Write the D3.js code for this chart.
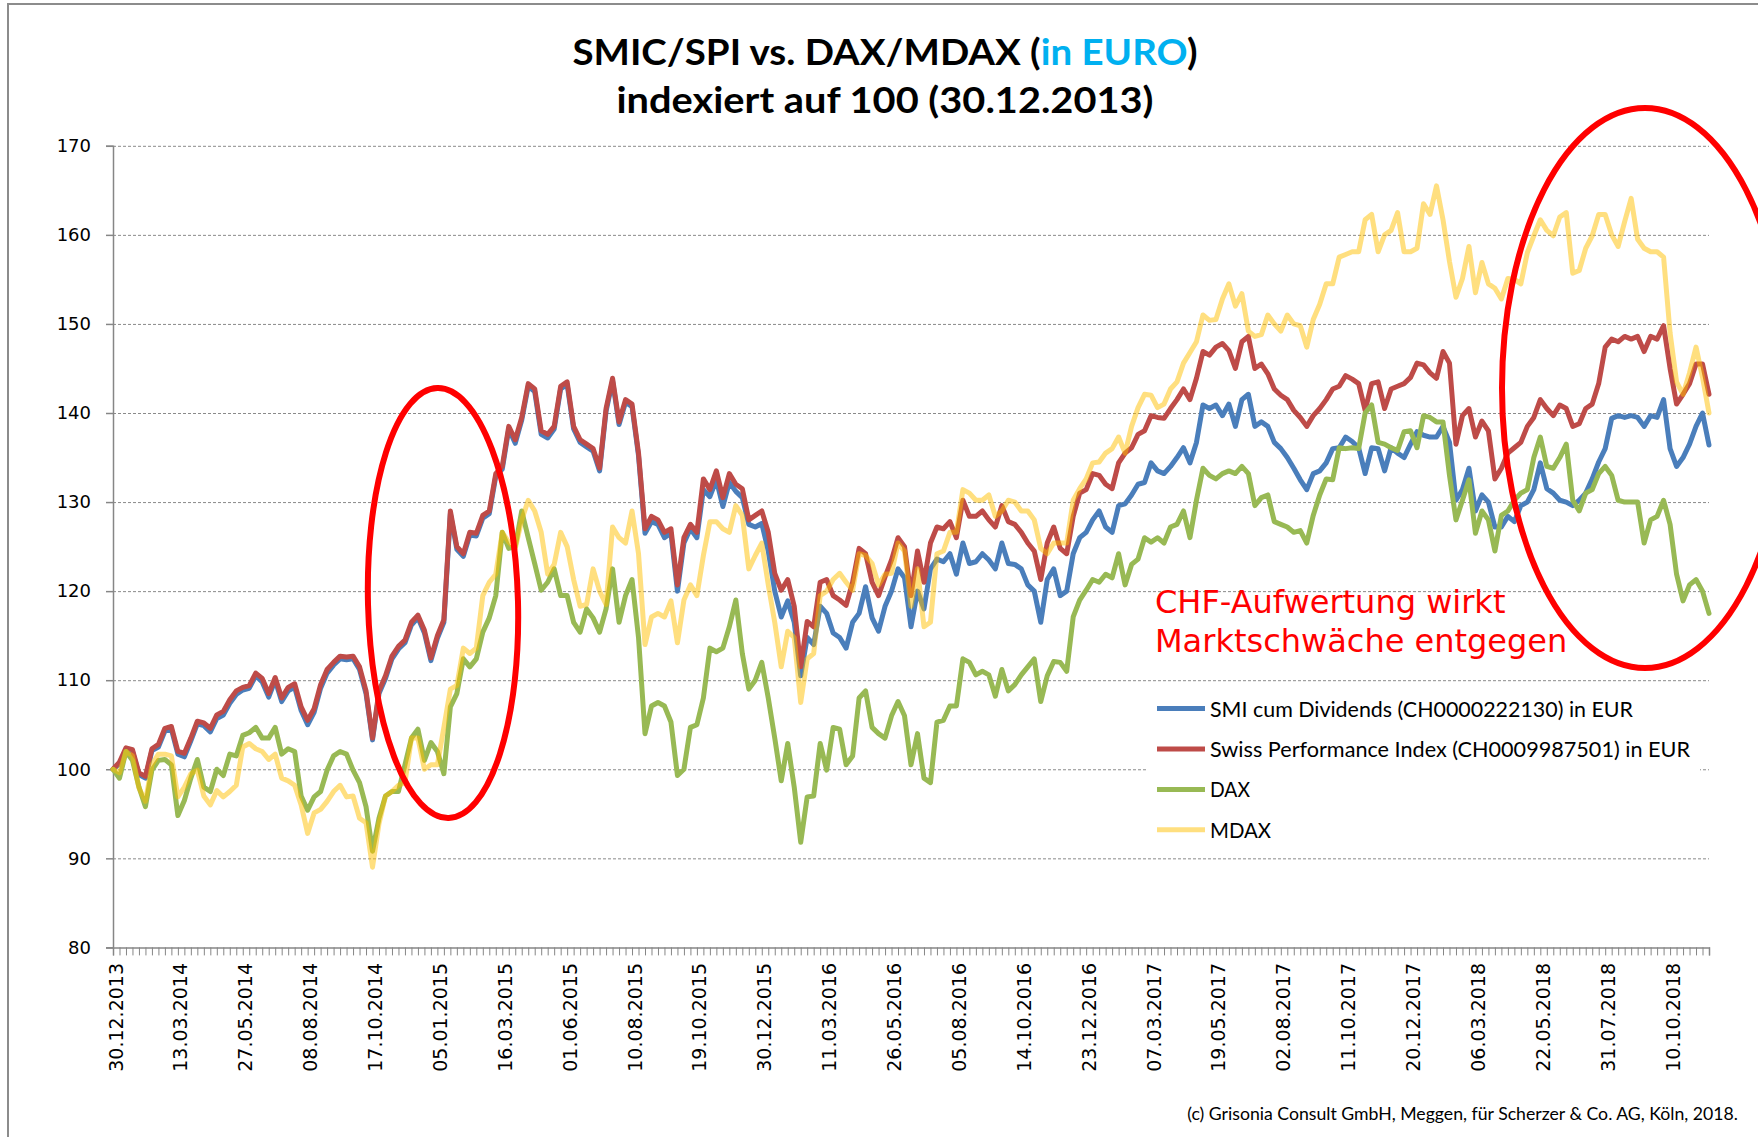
<!DOCTYPE html>
<html>
<head>
<meta charset="utf-8">
<title>SMIC/SPI vs. DAX/MDAX</title>
<script src="https://cdn.jsdelivr.net/npm/d3@7"></script>
<style>
  body { margin: 0; background: #fff; }
  svg { display: block; }
</style>
</head>
<body>
<svg id="chart" width="1758" height="1137"></svg>
<script>
// date labels on the category axis, one every 50 trading days
const tickDates = ["30.12.2013", "13.03.2014", "27.05.2014", "08.08.2014", "17.10.2014",
  "05.01.2015", "16.03.2015", "01.06.2015", "10.08.2015", "19.10.2015", "30.12.2015",
  "11.03.2016", "26.05.2016", "05.08.2016", "14.10.2016", "23.12.2016", "07.03.2017",
  "19.05.2017", "02.08.2017", "11.10.2017", "20.12.2017", "06.03.2018", "22.05.2018",
  "31.07.2018", "10.10.2018"];

const yTicks = [80, 90, 100, 110, 120, 130, 140, 150, 160, 170];

// index values, one reading every 5 trading days (day 0 ... day 1230)
const smi = [
  100, 100.6, 102.2, 102, 99.4, 99, 102.1, 102.5, 104.3, 104.5,
  101.7, 101.4, 103.2, 105.1, 104.9, 104.2, 105.7, 106.1, 107.4, 108.4,
  108.9, 109.1, 110.5, 109.8, 108.1, 110, 107.6, 108.8, 109.2, 106.6,
  105, 106.4, 109.1, 110.8, 111.7, 112.4, 112.3, 112.4, 111.2, 108.5,
  103.3, 108.5, 110.2, 112.4, 113.5, 114.2, 116.2, 117, 115.3, 112.2,
  114.7, 116.5, 128.7, 124.7, 123.9, 126.3, 126.2, 128.2, 128.7, 132.9,
  133.7, 138.2, 136.6, 139.2, 143, 142.4, 137.6, 137.2, 138.2, 142.7,
  143.2, 138.2, 136.7, 136.2, 135.7, 133.5, 140.2, 143.6, 138.7, 141.2,
  140.7, 135.2, 126.5, 127.8, 127.5, 126, 126.5, 120, 125.4, 127,
  126, 131.4, 130.6, 132.5, 129.5, 132.2, 131.2, 130.5, 127.5, 127.2,
  127.6, 124.5, 120, 117.1, 118.9, 116.5, 110.5, 114.8, 114, 118.3,
  117.5, 115.3, 114.8, 113.6, 116.5, 117.5, 120.5, 117, 115.5, 118.3,
  120, 122.5, 121.5, 116, 120, 118, 122.5, 123.6, 123.3, 124.2,
  121.9, 125.4, 123.1, 123.3, 124.2, 123.5, 122.5, 125.4, 123.1, 123,
  122.5, 120.7, 120, 116.5, 121.3, 122.5, 119.5, 120, 124.2, 126,
  126.6, 128, 129, 127.2, 126.6, 129.6, 129.8, 130.8, 132, 132.2,
  134.4, 133.5, 133.2, 134, 135, 136.1, 134.4, 136.7, 140.9, 140.5,
  140.9, 139.7, 141, 138.5, 141.5, 142.1, 138.5, 139, 138.5, 136.7,
  136, 135, 133.8, 132.5, 131.4, 133.2, 133.5, 134.4, 136, 136.1,
  137.3, 136.8, 136.1, 133.2, 136.1, 136, 133.5, 136.1, 135.5, 135,
  136.5, 137.9, 137.5, 137.3, 137.3, 138.5, 136.7, 130.2, 131.4, 133.8,
  129, 130.8, 130, 127.2, 127.2, 128.4, 127.8, 129.6, 130, 131.4,
  134.4, 131.5, 131, 130.2, 130, 129.6, 130.2, 131, 132.6, 134.5,
  136, 139.4, 139.7, 139.5, 139.7, 139.5, 138.5, 139.7, 139.5, 141.5,
  136, 134, 135, 136.5, 138.5, 140, 136.4
];

const spi = [
  100, 100.8, 102.4, 102.2, 99.6, 99.2, 102.3, 102.8, 104.6, 104.8,
  102, 101.8, 103.5, 105.4, 105.2, 104.6, 106.1, 106.5, 107.8, 108.8,
  109.2, 109.4, 110.8, 110.2, 108.5, 110.3, 108, 109.2, 109.6, 107,
  105.5, 106.8, 109.5, 111.2, 112, 112.7, 112.6, 112.7, 111.5, 108.8,
  103.5, 108.8, 110.5, 112.7, 113.8, 114.5, 116.5, 117.3, 115.6, 112.5,
  115, 116.8, 129, 125, 124.2, 126.6, 126.5, 128.5, 129, 133.2,
  134, 138.5, 137, 139.5, 143.3, 142.7, 138, 137.6, 138.5, 143,
  143.5, 138.5, 137, 136.5, 136, 133.8, 140.5, 143.9, 139, 141.5,
  141, 135.5, 127, 128.4, 128, 126.6, 127, 120.7, 126, 127.5,
  126.6, 132.6, 131.4, 133.5, 130.5, 133.2, 132, 131.5, 128, 128.5,
  129, 126.6, 122, 120.1, 121.3, 118.3, 111.5, 116.6, 116, 121,
  121.3, 119.5, 119, 118.4, 121, 124.8, 124.2, 121, 119.5, 121.6,
  123.5, 126, 125, 119.5, 124.5, 121, 125.4, 127.2, 127, 127.8,
  126, 130.2, 128.4, 128.4, 129, 128, 127.2, 129.6, 127.8, 127.5,
  126.6, 125.4, 124.5, 121.3, 125.4, 127.2, 124.8, 124.2, 128.4, 131,
  131.4, 133.2, 133, 132, 131.5, 134.4, 135.5, 136.1, 137.6, 138,
  139.7, 139.5, 139.4, 140.5, 141.5, 142.7, 141.5, 143.9, 146.9, 146.5,
  147.4, 147.8, 147, 145, 148, 148.6, 145, 145.5, 144.4, 142.7,
  142, 141.5, 140.3, 139.5, 138.5, 139.7, 140.5, 141.5, 142.7, 143,
  144.2, 143.8, 143.3, 140.3, 143.3, 143.5, 140.5, 142.7, 143, 143.3,
  144, 145.6, 145.4, 144.5, 143.9, 146.9, 145.6, 136.5, 139.7, 140.5,
  137.3, 139.1, 138, 132.6, 133.8, 135.5, 136.1, 136.7, 138.5, 139.5,
  141.5, 140.5, 139.7, 140.9, 140.5, 138.5, 138.8, 140.5, 141, 143.3,
  147.4, 148.3, 148, 148.6, 148.3, 148.6, 146.9, 148.6, 148.3, 149.8,
  145, 141, 142.1, 143.3, 145.5, 145.5, 142.1
];

const dax = [
  100, 99, 102, 101, 98, 95.8, 99.9, 101, 101.1, 100.5,
  94.8, 96.5, 99, 101.1, 98, 97.5, 100, 99.3, 101.7, 101.5,
  103.8, 104.1, 104.7, 103.5, 103.5, 104.7, 101.7, 102.3, 102, 97,
  95.4, 96.9, 97.5, 99.9, 101.5, 102, 101.7, 99.9, 98.5, 95.8,
  90.8, 94.5, 97, 97.5, 97.5, 100.5, 103.5, 104.5, 101, 103,
  102, 99.5, 107, 108.5, 112.4, 111.5, 112.4, 115.4, 117, 119.5,
  126.6, 124.8, 125, 129, 126, 123.1, 120.1, 121, 122.5, 119.5,
  119.5, 116.5, 115.4, 118, 117, 115.4, 118, 122.5, 116.5, 119.5,
  121.3, 114.8, 104, 107.1, 107.5, 107.1, 105.3, 99.3, 100, 104.7,
  105, 108, 113.6, 113.2, 113.6, 116, 119, 113, 109, 110,
  112, 108, 103.5, 98.7, 102.9, 98, 91.8, 96.9, 97, 102.9,
  99.9, 104.7, 104.5, 100.5, 101.5, 108, 108.8, 104.7, 104, 103.5,
  106, 107.6, 106, 100.5, 104, 99, 98.5, 105.3, 105.5, 107.1,
  107.1, 112.4, 112, 110.6, 111, 110.6, 108.2, 111.2, 108.8, 109.5,
  110.6, 111.5, 112.4, 107.6, 110.5, 112.1, 112, 111, 117.1, 119,
  120.1, 121.3, 121, 121.9, 121.5, 124.2, 120.7, 123, 123.6, 126,
  125.5, 126, 125.4, 127.2, 127.5, 129, 126, 130.2, 133.8, 133,
  132.6, 133.2, 133.5, 133.2, 134, 133.2, 129.6, 130.5, 130.8, 127.8,
  127.5, 127.2, 126.6, 126.8, 125.4, 128.5, 130.8, 132.6, 132.5, 136.1,
  136, 136.1, 136, 140, 140.9, 136.7, 136.5, 136.1, 135.8, 137.9,
  138, 136.1, 139.7, 139.5, 139, 139, 133, 128, 130.2, 132.5,
  126.5, 129, 128, 124.5, 128.5, 129, 130.2, 131, 131.4, 135,
  137.3, 134, 133.8, 135, 136.5, 130.2, 129, 131, 131.4, 133.2,
  134, 133, 130.2, 130, 130, 130, 125.4, 128, 128.4, 130.2,
  127.5, 121.9, 118.9, 120.7, 121.3, 120, 117.5
];

const mdax = [
  100, 99.6, 102, 101.5, 97.9, 96.4, 100.5, 101.7, 101.7, 101.5,
  96.9, 98, 99.5, 99.9, 97, 96, 97.6, 96.9, 97.5, 98.2,
  102.5, 102.9, 102.3, 102, 101.1, 101.7, 99, 98.7, 98.2, 96,
  92.8, 95.1, 95.5, 96.4, 97.5, 98.2, 96.9, 97, 94.5, 94,
  89, 93.9, 97, 97.5, 98.2, 98.5, 103.5, 103.5, 100, 100.5,
  100.5, 104.7, 109, 109.4, 113.6, 113, 113.6, 119.5, 121, 121.9,
  126.6, 125.5, 124.8, 128, 130.2, 129, 126.6, 121.9, 123, 126.6,
  125, 121.3, 118.3, 118.5, 122.5, 120, 118.5, 127.2, 126, 125.4,
  129, 124.2, 114, 117.1, 117.5, 117.1, 118.9, 114.2, 119, 120.7,
  119.5, 124, 127.8, 127.8, 127, 126.6, 129.6, 128.5, 122.5, 124,
  125.4, 120.7, 116.5, 111.5, 115.5, 114.8, 107.5, 112.4, 113, 119.5,
  120, 121.3, 122, 121, 120.1, 124.2, 124, 123.1, 120.7, 121.9,
  122, 125.4, 124.5, 118.3, 122.5, 116, 116.5, 124.2, 124.5, 126.6,
  126.6, 131.4, 131, 130.2, 130.2, 130.8, 128.4, 129, 130.2, 130,
  129, 129, 128, 124.8, 124.2, 125.4, 125.4, 125.4, 130.2, 131.5,
  132.6, 134.4, 134.5, 135.5, 136, 137.3, 135.5, 138.5, 140.6, 142.1,
  142, 140.6, 141, 142.7, 143.5, 145.6, 146.8, 148, 151, 150.4,
  150.5, 152.8, 154.5, 152, 153.4, 149.2, 148.6, 148.8, 151, 150,
  149.2, 151, 150, 149.8, 147.4, 150.5, 152.2, 154.5, 154.5, 157.5,
  157.8, 158.1, 158.1, 161.7, 162.3, 158.1, 160, 160.5, 162.5, 158.1,
  158.1, 158.5, 163.5, 162.3, 165.5, 161.7, 157, 153, 155.1, 158.7,
  153.5, 156.9, 154.5, 154, 152.8, 155.1, 155, 154.5, 158, 159.9,
  161.7, 160.5, 159.9, 162, 162.5, 155.7, 156, 158.5, 159.9, 162.3,
  162.3, 160, 158.7, 161.5, 164.1, 159.5, 158.5, 158.1, 158.1, 157.5,
  149, 143.5, 142.1, 144.5, 147.4, 144, 140
];

const step = 5;          // trading days between two readings
const labelEvery = 50;   // trading days between two date labels
const lastDay = (smi.length - 1) * step;

const svg = d3.select("#chart");
const plotLeft = 113, plotRight = 1709, plotTop = 145.8, plotBottom = 947.4;

const x = d3.scaleLinear().domain([0, lastDay]).range([plotLeft, plotRight]);
const y = d3.scaleLinear().domain([80, 170]).range([plotBottom, plotTop]);

// outer frame
svg.append("path")
  .attr("d", "M8,1137V4H1758")
  .attr("fill", "none")
  .attr("stroke", "#8c8c8c")
  .attr("stroke-width", 2);

// title
const title = svg.append("g")
  .attr("font-family", "Lato, 'Open Sans', sans-serif")
  .attr("font-weight", "bold")
  .attr("font-size", 37)
  .attr("text-anchor", "middle");

const t1 = title.append("text")
  .attr("x", 885).attr("y", 65)
  .attr("textLength", 625).attr("lengthAdjust", "spacingAndGlyphs");
t1.append("tspan").text("SMIC/SPI vs. DAX/MDAX (");
t1.append("tspan").attr("fill", "#00B0F0").text("in EURO");
t1.append("tspan").text(")");

title.append("text")
  .attr("x", 885).attr("y", 113)
  .attr("textLength", 537).attr("lengthAdjust", "spacingAndGlyphs")
  .text("indexiert auf 100 (30.12.2013)");

// gridlines
const grid = svg.append("g")
  .attr("transform", `translate(${plotLeft},0)`)
  .call(d3.axisLeft(y).tickValues(yTicks.slice(1)).tickSize(-(plotRight - plotLeft)).tickFormat(""));
grid.select(".domain").remove();
grid.selectAll("line")
  .attr("stroke", "#8a8a8a")
  .attr("stroke-width", 1)
  .attr("stroke-dasharray", "3,2");

// legend background hides the gridline behind it
svg.append("rect")
  .attr("x", 1147).attr("y", 688)
  .attr("width", 553).attr("height", 160)
  .attr("fill", "#fff");

// y axis
const yAxis = svg.append("g")
  .attr("transform", `translate(${plotLeft},0)`)
  .call(d3.axisLeft(y).tickValues(yTicks).tickSize(7).tickPadding(15));
yAxis.selectAll("path, line").attr("stroke", "#868686").attr("stroke-width", 1.5);
yAxis.selectAll("text")
  .attr("font-family", "'DejaVu Sans', Verdana, sans-serif")
  .attr("font-size", 18)
  .attr("fill", "#000");

// x axis with a tick every 5 trading days
const xAxis = svg.append("g")
  .attr("transform", `translate(0,${plotBottom})`)
  .call(d3.axisBottom(x).tickValues(d3.range(0, lastDay + 1, step)).tickSize(8).tickFormat(""));
xAxis.selectAll("path, line").attr("stroke", "#868686");
xAxis.select(".domain").attr("stroke-width", 1.5);

svg.append("g")
  .attr("font-family", "'DejaVu Sans', Verdana, sans-serif")
  .attr("font-size", 19)
  .selectAll("text")
  .data(tickDates)
  .join("text")
  .attr("transform", (d, k) => `translate(${x(k * labelEvery)},963) rotate(-90)`)
  .attr("text-anchor", "end")
  .attr("dy", "0.5em")
  .text(d => d);

// lines
const series = [
  { name: "SMI cum Dividends (CH0000222130) in EUR", values: smi, color: "#4A7EBB", opacity: 1, width: 423 },
  { name: "Swiss Performance Index (CH0009987501) in EUR", values: spi, color: "#BE4B48", opacity: 1, width: 480 },
  { name: "DAX", values: dax, color: "#98B954", opacity: 1, width: 40 },
  { name: "MDAX", values: mdax, color: "#FFC000", opacity: 0.5, width: 61 }
];

const line = d3.line()
  .x((d, i) => x(i * step))
  .y(d => y(d));

svg.append("g")
  .selectAll("path")
  .data(series)
  .join("path")
  .attr("d", s => line(s.values))
  .attr("fill", "none")
  .attr("stroke", s => s.color)
  .attr("stroke-opacity", s => s.opacity)
  .attr("stroke-width", 5)
  .attr("stroke-linejoin", "round")
  .attr("stroke-linecap", "round");

// legend
const legend = svg.append("g")
  .selectAll("g")
  .data(series)
  .join("g")
  .attr("transform", (s, k) => `translate(1157,${708.6 + k * 40.4})`);

legend.append("line")
  .attr("x1", 0).attr("x2", 48)
  .attr("stroke", s => s.color)
  .attr("stroke-opacity", s => s.opacity)
  .attr("stroke-width", 5);

legend.append("text")
  .attr("x", 53)
  .attr("dy", "0.36em")
  .attr("font-family", "Lato, 'Open Sans', sans-serif")
  .attr("font-size", 22)
  .attr("fill", "#000")
  .attr("textLength", s => s.width)
  .attr("lengthAdjust", "spacingAndGlyphs")
  .text(s => s.name);

// annotation
const note = svg.append("text")
  .attr("font-family", "'DejaVu Sans', Verdana, sans-serif")
  .attr("font-size", 32)
  .attr("fill", "#FF0000");
note.append("tspan").attr("x", 1155).attr("y", 613).text("CHF-Aufwertung wirkt");
note.append("tspan").attr("x", 1155).attr("y", 652).text("Marktschwäche entgegen");

// red ellipses
svg.append("ellipse")
  .attr("cx", 443).attr("cy", 603)
  .attr("rx", 75).attr("ry", 215)
  .attr("transform", "rotate(-1.5,443,603)")
  .attr("fill", "none")
  .attr("stroke", "#FF0000")
  .attr("stroke-width", 6);

svg.append("ellipse")
  .attr("cx", 1645).attr("cy", 388)
  .attr("rx", 143).attr("ry", 280)
  .attr("fill", "none")
  .attr("stroke", "#FF0000")
  .attr("stroke-width", 6);

// footer: size the font so the line spans the same width as the original
const footer = svg.append("text")
  .attr("x", 1738).attr("y", 1120)
  .attr("text-anchor", "end")
  .attr("font-family", "Lato, 'Open Sans', sans-serif")
  .attr("font-size", 19)
  .text("(c) Grisonia Consult GmbH, Meggen, für Scherzer & Co. AG, Köln, 2018.");
const footerLen = footer.node().getComputedTextLength();
if (footerLen > 0) footer.attr("font-size", 19 * 551 / footerLen);
</script>
</body>
</html>
